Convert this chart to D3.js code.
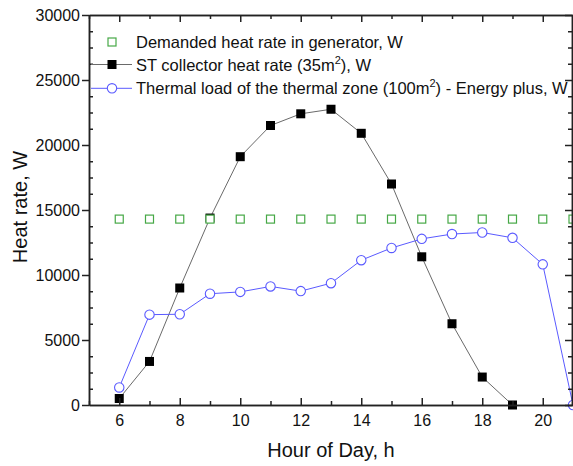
<!DOCTYPE html>
<html>
<head>
<meta charset="utf-8">
<script src="https://cdn.jsdelivr.net/npm/d3@7"></script>
<style>
  body { margin: 0; background: #fff; }
  text { font-family: "Liberation Sans", Arial, sans-serif; fill: #111; }
</style>
</head>
<body>
<svg id="chart" width="573" height="466"></svg>
<script>
// values
const hours = [6, 7, 8, 9, 10, 11, 12, 13, 14, 15, 16, 17, 18, 19, 20, 21];
const demanded = [14300, 14300, 14300, 14300, 14300, 14300, 14300, 14300, 14300, 14300, 14300, 14300, 14300, 14300, 14300, 14300];
const collectorHours = [6, 7, 8, 9, 10, 11, 12, 13, 14, 15, 16, 17, 18, 19];
const collector = [500, 3350, 9000, 14380, 19100, 21500, 22400, 22750, 20900, 17000, 11400, 6250, 2150, 0];
const thermal = [1350, 6950, 6980, 8560, 8700, 9120, 8760, 9370, 11140, 12080, 12780, 13150, 13270, 12860, 10820, 0];

const xMajor = [6, 8, 10, 12, 14, 16, 18, 20];
const xMinor = [5, 7, 9, 11, 13, 15, 17, 19, 21];
const yMajor = [0, 5000, 10000, 15000, 20000, 25000, 30000];
const yMinor = [1250, 2500, 3750, 6250, 7500, 8750, 11250, 12500, 13750, 16250, 17500, 18750,
                21250, 22500, 23750, 26250, 27500, 28750];

const legendLabels = [
  ["Demanded heat rate in generator, W"],
  ["ST collector heat rate (35m", "2", "), W"],
  ["Thermal load of the thermal zone (100m", "2", ") - Energy plus, W"]
];

const svg = d3.select("#chart");
const mLeft = 89, mRight = 573, mTop = 15, mBottom = 405;

const x = d3.scaleLinear().domain([5, 21]).range([mLeft, mRight]);
const y = d3.scaleLinear().domain([0, 30000]).range([mBottom, mTop]);

const green = "#46a846", blue = "#5a5aff", dark = "#6a6a6a";

// series: collector
svg.append("path")
  .datum(collector)
  .attr("fill", "none").attr("stroke", dark).attr("stroke-width", 1)
  .attr("d", d3.line().x((d, i) => x(collectorHours[i])).y(d => y(d)));
svg.selectAll(".sq").data(collector).join("rect")
  .attr("x", (d, i) => x(collectorHours[i]) - 4.5).attr("y", d => y(d) - 4.5)
  .attr("width", 9).attr("height", 9).attr("fill", "#000");

// series: thermal load
svg.append("path")
  .datum(thermal)
  .attr("fill", "none").attr("stroke", blue).attr("stroke-width", 1)
  .attr("d", d3.line().x((d, i) => x(hours[i])).y(d => y(d)));
svg.selectAll(".ci").data(thermal).join("circle")
  .attr("cx", (d, i) => x(hours[i])).attr("cy", d => y(d)).attr("r", 4.7)
  .attr("fill", "#fff").attr("stroke", blue).attr("stroke-width", 1.1);

// series: demanded
svg.selectAll(".gs").data(demanded).join("rect")
  .attr("x", (d, i) => x(hours[i]) - 4).attr("y", d => y(d) - 4)
  .attr("width", 8).attr("height", 8)
  .attr("fill", "#fff").attr("stroke", green).attr("stroke-width", 1.2);

// axes
function styleAxis(g) {
  g.selectAll("path, line").attr("stroke", "#222").attr("stroke-width", 1.5);
  g.selectAll("text").attr("font-size", 16).attr("fill", "#111")
    .attr("font-family", "'Liberation Sans', Arial, sans-serif");
}

svg.append("g").attr("transform", `translate(0,${mBottom})`)
  .call(d3.axisBottom(x).tickValues(xMajor).tickSize(-7).tickSizeOuter(0).tickPadding(10).tickFormat(d3.format("d")))
  .call(styleAxis);
svg.append("g").attr("transform", `translate(0,${mBottom})`)
  .call(d3.axisBottom(x).tickValues(xMinor).tickSize(-4).tickSizeOuter(0).tickFormat(""))
  .call(styleAxis);
svg.append("g").attr("transform", `translate(0,${mTop})`)
  .call(d3.axisTop(x).tickValues(xMajor).tickSize(-7).tickSizeOuter(0).tickFormat(""))
  .call(styleAxis);
svg.append("g").attr("transform", `translate(0,${mTop})`)
  .call(d3.axisTop(x).tickValues(xMinor).tickSize(-4).tickSizeOuter(0).tickFormat(""))
  .call(styleAxis);

svg.append("g").attr("transform", `translate(${mLeft},0)`)
  .call(d3.axisLeft(y).tickValues(yMajor).tickSize(7).tickSizeOuter(0).tickPadding(2).tickFormat(d3.format("d")))
  .call(styleAxis);
svg.append("g").attr("transform", `translate(${mLeft},0)`)
  .call(d3.axisRight(y).tickValues(yMinor).tickSize(4).tickSizeOuter(0).tickFormat(""))
  .call(styleAxis);
svg.append("g").attr("transform", `translate(${mRight - 1},0)`)
  .call(d3.axisLeft(y).tickValues(yMajor).tickSize(7).tickSizeOuter(0).tickFormat(""))
  .call(styleAxis);
svg.append("g").attr("transform", `translate(${mRight - 1},0)`)
  .call(d3.axisLeft(y).tickValues(yMinor).tickSize(4).tickSizeOuter(0).tickFormat(""))
  .call(styleAxis);

// axis titles
svg.append("text").attr("x", (mLeft + mRight) / 2).attr("y", 457)
  .attr("text-anchor", "middle").attr("font-size", 20).text("Hour of Day, h");
svg.append("text").attr("transform", "translate(27,207) rotate(-90)")
  .attr("text-anchor", "middle").attr("font-size", 20).text("Heat rate, W");

// legend
const rowsY = [42, 64.5, 88.3];
const lg = svg.append("g");
lg.append("rect").attr("x", 108).attr("y", rowsY[0] - 4).attr("width", 8).attr("height", 8)
  .attr("fill", "#fff").attr("stroke", green).attr("stroke-width", 1.2);
lg.append("line").attr("x1", 91).attr("x2", 132).attr("y1", rowsY[1]).attr("y2", rowsY[1])
  .attr("stroke", dark).attr("stroke-width", 1);
lg.append("rect").attr("x", 107.5).attr("y", rowsY[1] - 4.5).attr("width", 9).attr("height", 9).attr("fill", "#000");
lg.append("line").attr("x1", 91).attr("x2", 132).attr("y1", rowsY[2]).attr("y2", rowsY[2])
  .attr("stroke", blue).attr("stroke-width", 1);
lg.append("circle").attr("cx", 112).attr("cy", rowsY[2]).attr("r", 4.7)
  .attr("fill", "#fff").attr("stroke", blue).attr("stroke-width", 1.1);

legendLabels.forEach((parts, i) => {
  const t = lg.append("text").attr("x", 136).attr("y", rowsY[i] + 6).attr("font-size", 16.5);
  t.append("tspan").text(parts[0]);
  if (parts.length > 1) {
    t.append("tspan").attr("dy", -7).attr("font-size", 11).text(parts[1]);
    t.append("tspan").attr("dy", 7).text(parts[2]);
  }
});
</script>
</body>
</html>
